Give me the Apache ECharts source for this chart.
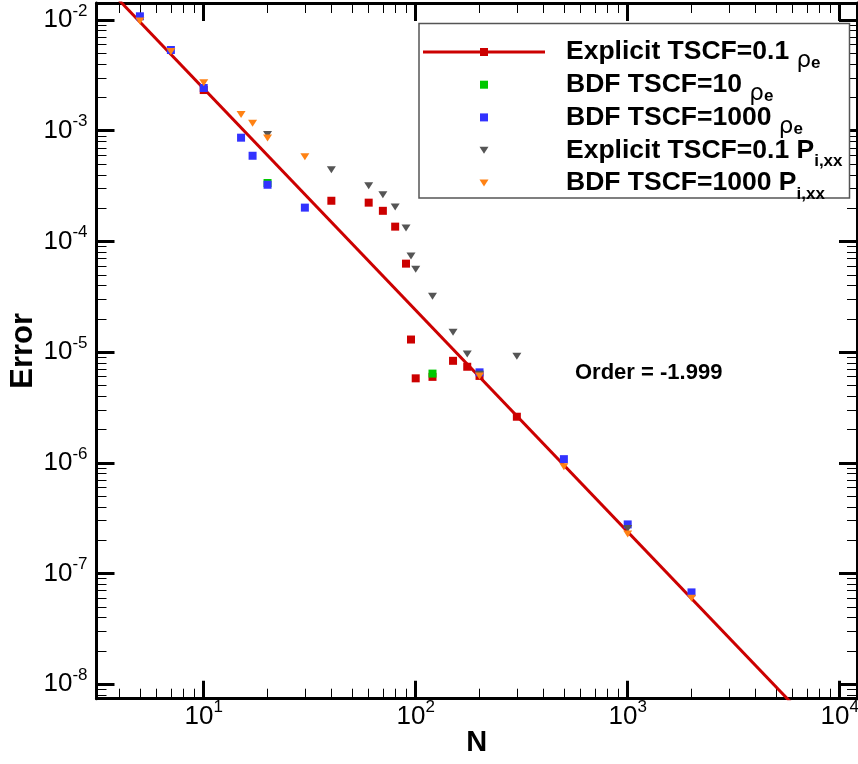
<!DOCTYPE html>
<html>
<head>
<meta charset="utf-8">
<script src="https://cdn.jsdelivr.net/npm/echarts@6/dist/echarts.min.js"></script>
<style>
  html, body { margin: 0; padding: 0; background: #fff; }
  #chart { width: 858px; height: 764px; }
</style>
</head>
<body>
<div id="chart"></div>
<script>
// Grid-convergence study: error against number of cells N (log-log)
const explicitRhoN   = [10, 40, 60, 70, 80, 90, 95, 100, 120, 150, 175, 200, 300];
const explicitRhoErr = [2.33e-3, 2.33e-4, 2.24e-4, 1.89e-4, 1.36e-4, 6.3e-5, 1.30e-5, 5.8e-6, 5.98e-6, 8.35e-6, 7.38e-6, 6.1e-6, 2.61e-6];

const bdf10RhoN   = [20, 120];
const bdf10RhoErr = [3.37e-4, 6.4e-6];

const bdf1000RhoN   = [5, 7, 10, 15, 17, 20, 30, 200, 500, 1000, 2000];
const bdf1000RhoErr = [1.08e-2, 5.36e-3, 2.43e-3, 8.65e-4, 5.94e-4, 3.25e-4, 2.02e-4, 6.57e-6, 1.08e-6, 2.78e-7, 6.76e-8];

const explicitPxxN   = [20, 40, 60, 70, 80, 90, 95, 100, 120, 150, 175, 200, 300, 1000];
const explicitPxxErr = [9.25e-4, 4.45e-4, 3.18e-4, 2.64e-4, 2.05e-4, 1.32e-4, 7.4e-5, 5.6e-5, 3.2e-5, 1.51e-5, 9.6e-6, 6.3e-6, 9.2e-6, 2.55e-7];

const bdf1000PxxN   = [5, 7, 10, 15, 17, 20, 30, 200, 500, 1000, 2000];
const bdf1000PxxErr = [9.8e-3, 5.18e-3, 2.71e-3, 1.40e-3, 1.17e-3, 8.6e-4, 5.82e-4, 6.08e-6, 9.2e-7, 2.28e-7, 5.97e-8];

// Least-squares convergence line, given by its two end points
const fitN   = [4, 6000];
const fitErr = [1.5e-2, 6.6e-9];
const orderLabel = 'Order = -1.999';

// Axis extents and decade ticks
const xRange = [3.12, 12070];
const yRange = [7.41e-9, 1.424e-2];
const xMajor = [10, 100, 1000, 10000];
const yMajor = [1e-8, 1e-7, 1e-6, 1e-5, 1e-4, 1e-3, 1e-2];
const xName = 'N';
const yName = 'Error';

const legendLabels = [
  '{t|Explicit TSCF=0.1 }{g|\u03C1}{s|e}',
  '{t|BDF TSCF=10 }{g|\u03C1}{s|e}',
  '{t|BDF TSCF=1000 }{g|\u03C1}{s|e}',
  '{t|Explicit TSCF=0.1 P}{s|i,xx}',
  '{t|BDF TSCF=1000 P}{s|i,xx}'
];

const FONT = '"Liberation Sans", Arial, Helvetica, sans-serif';
const GREEK_FONT = '"DejaVu Sans", "Liberation Sans", sans-serif';
const C_RED = '#cc0000', C_GREEN = '#00c800', C_BLUE = '#3232ff', C_GRAY = '#555555', C_ORANGE = '#ff8214';

// 2..9 sub-decade tick positions inside an extent
function minorTicks(majors, lo, hi) {
  const out = [];
  for (let d = majors[0] / 10; d <= majors[majors.length - 1] * 1.0001; d *= 10) {
    for (let k = 2; k <= 9; k++) {
      const v = Number((k * d).toPrecision(6));
      if (v > lo && v < hi) out.push(v);
    }
  }
  return out;
}
const xMinor = minorTicks(xMajor, xRange[0], xRange[1]);
const yMinor = minorTicks(yMajor, yRange[0], yRange[1]);

const pts = (ns, es) => ns.map((n, i) => [n, es[i]]);
const powLabel = v => '{b|10}{s|' + Math.round(Math.log10(v)) + '}';

const labelRich = {
  b: { fontFamily: FONT, fontSize: 26, color: '#000', height: 30, verticalAlign: 'top' },
  s: { fontFamily: FONT, fontSize: 17, color: '#000', height: 12, verticalAlign: 'top' }
};

function axis(position, range, ticks, len, width, extra) {
  return Object.assign({
    type: 'log',
    logBase: 10,
    gridIndex: 0,
    position: position,
    min: range[0],
    max: range[1],
    axisLine: { show: false, onZero: false },
    axisTick: { show: true, inside: true, length: len, customValues: ticks,
                lineStyle: { color: '#000', width: width } },
    axisLabel: { show: false },
    splitLine: { show: false },
    minorTick: { show: false },
    minorSplitLine: { show: false },
    silent: true
  }, extra || {});
}

const frameLine = { show: true, onZero: false, lineStyle: { color: '#000', width: 3 } };
const tickLabel = margin => ({
  show: true, formatter: powLabel, margin: margin, rich: labelRich,
  fontFamily: FONT, fontSize: 26, color: '#000', hideOverlap: false
});

const xAxes = [
  axis('bottom', xRange, xMajor, 18, 3, {
    axisLine: frameLine,
    axisLabel: Object.assign(tickLabel(3), { customValues: xMajor }),
    name: xName, nameLocation: 'middle', nameGap: 30, nameMoveOverlap: false,
    nameTextStyle: { fontFamily: FONT, fontSize: 29, fontWeight: 'bold', color: '#000' }
  }),
  axis('top', xRange, xMajor, 18, 3, { axisLine: frameLine }),
  axis('bottom', xRange, xMinor, 10, 1),
  axis('top', xRange, xMinor, 10, 1)
];
const yAxes = [
  axis('left', yRange, yMajor, 18, 3, {
    axisLine: frameLine,
    axisLabel: Object.assign(tickLabel(9), { customValues: yMajor }),
    name: yName, nameLocation: 'middle', nameGap: 58, nameMoveOverlap: false,
    nameTextStyle: { fontFamily: FONT, fontSize: 31, fontWeight: 'bold', color: '#000' }
  }),
  axis('right', yRange, yMajor, 18, 3, { axisLine: frameLine }),
  axis('left', yRange, yMinor, 10, 1),
  axis('right', yRange, yMinor, 10, 1)
];

function scatter(name, ns, es, color, symbol, z) {
  const tri = symbol === 'triangle';
  return {
    type: 'scatter', name: name, xAxisIndex: 0, yAxisIndex: 0,
    data: pts(ns, es),
    symbol: symbol,
    symbolSize: tri ? [9, 7] : 8,
    symbolRotate: tri ? 180 : 0,
    itemStyle: { color: color, opacity: 1 },
    z: z, silent: true
  };
}

// Hand-built key in the upper-right corner
const rowY = [52, 84.7, 117.4, 150.2, 183];
const swatchX = 484;
const legendColors = [C_RED, C_GREEN, C_BLUE, C_GRAY, C_ORANGE];
const legendRich = {
  t: { fontFamily: FONT, fontSize: 26.5, fontWeight: 'bold', fill: '#000', height: 26, verticalAlign: 'top' },
  g: { fontFamily: GREEK_FONT, fontSize: 23, fontWeight: 'normal', fill: '#000', height: 44.6, verticalAlign: 'top' },
  s: { fontFamily: FONT, fontSize: 17, fontWeight: 'bold', fill: '#000', height: 49, verticalAlign: 'top' }
};
const graphics = [
  { type: 'rect', shape: { x: 419, y: 23.5, width: 430.5, height: 174.5 },
    style: { fill: '#fff', stroke: '#555', lineWidth: 1.5 }, z: 10, silent: true },
  { type: 'line', shape: { x1: 423, y1: rowY[0], x2: 545, y2: rowY[0] },
    style: { stroke: C_RED, lineWidth: 3 }, z: 11, silent: true }
];
legendLabels.forEach((txt, i) => {
  const y = rowY[i];
  if (i < 3) {
    graphics.push({ type: 'rect', shape: { x: swatchX - 4, y: y - 4, width: 8, height: 8 },
      style: { fill: legendColors[i] }, z: 12, silent: true });
  } else {
    graphics.push({ type: 'polygon',
      shape: { points: [[swatchX - 4.5, y - 3.5], [swatchX + 4.5, y - 3.5], [swatchX, y + 3.5]] },
      style: { fill: legendColors[i] }, z: 12, silent: true });
  }
  graphics.push({ type: 'text', x: 566, y: y - 13, z: 12, silent: true,
    style: { text: txt, rich: legendRich, align: 'left', verticalAlign: 'top',
             fontFamily: FONT, fill: '#000' } });
});
graphics.push({ type: 'text', x: 575, y: 372.5, z: 12, silent: true,
  style: { text: orderLabel, fontFamily: FONT, fontSize: 22, fontWeight: 'bold',
           fill: '#000', align: 'left', verticalAlign: 'middle' } });

const chart = echarts.init(document.getElementById('chart'), null, { renderer: 'canvas' });
chart.setOption({
  animation: false,
  backgroundColor: '#fff',
  grid: { left: 96.5, top: 3, right: 1, bottom: 65.3, containLabel: false, outerBoundsMode: 'none' },
  xAxis: xAxes,
  yAxis: yAxes,
  series: [
    { type: 'line', name: 'fit', xAxisIndex: 0, yAxisIndex: 0, data: pts(fitN, fitErr),
      symbol: 'none', clip: true, lineStyle: { color: C_RED, width: 3 }, z: 1, silent: true },
    scatter('Explicit TSCF=0.1 rho_e', explicitRhoN, explicitRhoErr, C_RED, 'rect', 2),
    scatter('BDF TSCF=10 rho_e', bdf10RhoN, bdf10RhoErr, C_GREEN, 'rect', 3),
    scatter('BDF TSCF=1000 rho_e', bdf1000RhoN, bdf1000RhoErr, C_BLUE, 'rect', 4),
    scatter('Explicit TSCF=0.1 P_i,xx', explicitPxxN, explicitPxxErr, C_GRAY, 'triangle', 5),
    scatter('BDF TSCF=1000 P_i,xx', bdf1000PxxN, bdf1000PxxErr, C_ORANGE, 'triangle', 6)
  ],
  graphic: graphics
});
</script>
</body>
</html>
